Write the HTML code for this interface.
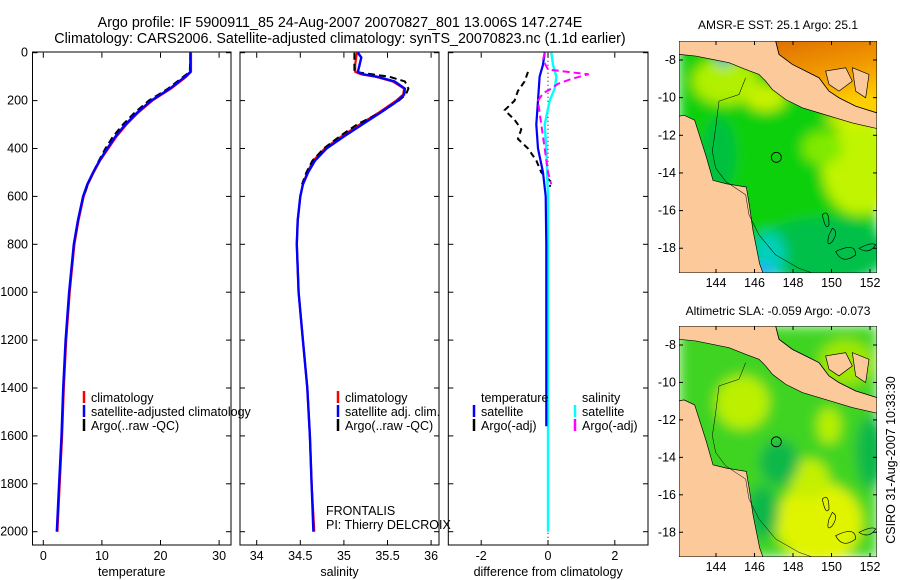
<!DOCTYPE html>
<html><head><meta charset="utf-8">
<style>
html,body{margin:0;padding:0;background:#fff;}
svg{display:block;font-family:"Liberation Sans",sans-serif;}
text{fill:#000;}
</style></head>
<body>
<svg id="fig" width="900" height="580" viewBox="0 0 900 580" xmlns="http://www.w3.org/2000/svg">
<text x="340" y="27" font-size="14.3" text-anchor="middle">Argo profile: IF 5900911_85 24-Aug-2007 20070827_801 13.006S 147.274E</text>
<text x="340" y="43" font-size="14.3" text-anchor="middle">Climatology: CARS2006. Satellite-adjusted climatology: synTS_20070823.nc (1.1d earlier)</text>
<g id="plots"></g>
<text x="778" y="29" font-size="12" text-anchor="middle">AMSR-E SST: 25.1 Argo: 25.1</text>
<text x="778" y="315" font-size="12" text-anchor="middle">Altimetric SLA: -0.059 Argo: -0.073</text>
<text transform="translate(895,460) rotate(-90)" font-size="12.5" text-anchor="middle">CSIRO 31-Aug-2007 10:33:30</text>
<g id="maps"></g>
</svg>
<script>
// ---- data ----
const depthsT = [0,80,100,150,200,250,300,350,400,450,500,550,600,700,800,1000,1200,1400,1600,1800,2000];
const tempClim = [25.2,25.2,24.4,21.8,18.6,16.2,14.2,12.5,11.1,9.7,8.6,7.6,6.9,6.0,5.3,4.5,3.9,3.5,3.2,2.8,2.4];
const tempSat  = [25.1,25.1,24.2,21.6,18.4,16.0,14.0,12.3,10.9,9.6,8.5,7.5,6.8,5.9,5.2,4.4,3.8,3.4,3.1,2.7,2.3];
const tempArgo = [25.1,25.0,23.9,21.3,18.0,15.6,13.6,11.9,10.6,9.5,8.5,7.6,6.9];
const depthsS = [0,20,50,80,90,100,120,150,175,200,250,300,350,400,450,500,550,600,700,800,1000,1200,1400,1600,1800,2000];
const salClim = [35.15,35.14,35.13,35.13,35.2,35.36,35.56,35.69,35.68,35.6,35.4,35.18,34.97,34.78,34.65,34.58,34.53,34.5,34.47,34.46,34.48,34.53,34.58,34.61,34.63,34.66];
const salSat  = [35.16,35.2,35.18,35.16,35.22,35.38,35.58,35.70,35.69,35.62,35.42,35.21,35.0,34.80,34.67,34.59,34.53,34.5,34.47,34.46,34.48,34.53,34.58,34.61,34.63,34.65];
const salArgo = [35.12,35.12,35.12,35.12,35.32,35.52,35.7,35.74,35.71,35.63,35.42,35.15,34.95,34.77,34.64,34.57,34.52];
const dDepthT = [0,50,100,200,300,400,500,600,800,1000,1200,1560];
const dTempSat = [-0.1,-0.15,-0.25,-0.3,-0.35,-0.3,-0.15,-0.07,-0.05,-0.05,-0.05,-0.05];
const dDepthS = [0,50,100,150,200,300,400,600,800,1000,1500,2000];
const dSalSat = [0.1,0.15,0.25,0.2,0.05,-0.1,-0.05,0.0,0.0,0.0,0.0,0.0];
const dDepthTA = [80,120,160,200,240,280,320,360,400,450,500,540,560];
const dTempArgo = [-0.6,-0.7,-0.9,-1.0,-1.3,-1.0,-0.8,-0.9,-0.6,-0.35,-0.2,0.1,0.05];
const dDepthSA = [0,30,70,90,110,130,150,170,200,250,300,350,400,500,550];
const dSalArgo = [-0.1,-0.15,0.0,1.2,0.7,0.3,0.1,-0.15,-0.3,-0.25,-0.2,-0.15,-0.1,0.0,0.1];
const depthTicks = [0,200,400,600,800,1000,1200,1400,1600,1800,2000];
const tTicks = [0,10,20,30];
const sTicks = [34,34.5,35,35.5,36];
const dTicks = [-2,0,2];

const NS="http://www.w3.org/2000/svg";
const plots=document.getElementById('plots');
function mk(tag,attrs,parent){const e=document.createElementNS(NS,tag);for(const k in attrs)e.setAttribute(k,attrs[k]);(parent||plots).appendChild(e);return e;}
const TOP=52.7, BOT=545;
function yD(d){return 52.7+d*0.2395;}
const panels=[
 {x0:32.5,x1:231,xs:v=>43.3+v*5.86,ticks:tTicks,lab:'temperature',name:'temperature-panel'},
 {x0:240,x1:439,xs:v=>256.7+(v-34)*87.2,ticks:sTicks,lab:'salinity',name:'salinity-panel'},
 {x0:448.3,x1:648,xs:v=>548+v*33.4,ticks:dTicks,lab:'difference from climatology',name:'difference-panel'}
];
panels.forEach((p,i)=>{
  const g=mk('g',{});
  
  
  const r=mk('rect',{x:p.x0,y:TOP-0.7,width:p.x1-p.x0,height:BOT-TOP+0.7,fill:'none',stroke:'#000','stroke-width':1},g);
  
  
  p.ticks.forEach(t=>{
    const x=p.xs(t);
    mk('line',{x1:x,x2:x,y1:BOT,y2:BOT-5,stroke:'#000'},g);
    mk('line',{x1:x,x2:x,y1:TOP,y2:TOP+5,stroke:'#000'},g);
    const tx=mk('text',{x:x,y:BOT+15,'font-size':12.5,'text-anchor':'middle'},g);
    tx.textContent=String(t);
    
    
  });
  depthTicks.forEach(d=>{
    const y=yD(d);
    mk('line',{x1:p.x0,x2:p.x0+5,y1:y,y2:y,stroke:'#000'},g);
    mk('line',{x1:p.x1,x2:p.x1-5,y1:y,y2:y,stroke:'#000'},g);
    if(i===0){const tx=mk('text',{x:28,y:y+4,'font-size':12.5,'text-anchor':'end'},g);tx.textContent=String(d);
      
      }
  });
  const xl=mk('text',{x:(p.x0+p.x1)/2,y:576,'font-size':12.5,'text-anchor':'middle'},g);
  xl.textContent=p.lab;
  
  
});
function line(p,depths,vals,color,w,dash,name){
  const pts=vals.map((v,k)=>p.xs(v).toFixed(1)+','+yD(depths[k]).toFixed(1)).join(' ');
  const e=mk('polyline',{points:pts,fill:'none',stroke:color,'stroke-width':w,'stroke-linejoin':'round'});
  if(dash)e.setAttribute('stroke-dasharray',dash);
  
  
}
const P=panels;
line(P[0],depthsT,tempClim,'#f00',2.2,null,'temperature-climatology-line');
line(P[0],depthsT.slice(0,tempArgo.length),tempArgo,'#000',2,'7,4','temperature-argo-line');
line(P[0],depthsT,tempSat,'#00f',2.4,null,'temperature-satellite-line');
line(P[1],depthsS,salClim,'#f00',2.2,null,'salinity-climatology-line');
line(P[1],depthsS.slice(0,salArgo.length),salArgo,'#000',2,'7,4','salinity-argo-line');
line(P[1],depthsS,salSat,'#00f',2.4,null,'salinity-satellite-line');
const z=mk('line',{x1:548,x2:548,y1:TOP,y2:BOT,stroke:'#000','stroke-width':1,'stroke-dasharray':'1,3'});


line(P[2],dDepthTA,dTempArgo,'#000',2,'6,4','temperature-argo-difference-line');
line(P[2],dDepthS,dSalSat,'#0ff',2.4,null,'salinity-satellite-difference-line');
line(P[2],dDepthT,dTempSat,'#00f',2.2,null,'temperature-satellite-difference-line');
line(P[2],dDepthSA,dSalArgo,'#f0f',2,'7,4','salinity-argo-difference-line');

function legend(x,y,color,label,name){
  const g=mk('g',{});
  
  
  if(color)mk('line',{x1:x,x2:x,y1:y-11,y2:y+1,stroke:color,'stroke-width':2.5},g);
  const t=mk('text',{x:x+7,y:y,'font-size':12.5},g);t.textContent=label;
}
legend(84,402,'#f00','climatology','legend-climatology');
legend(84,416,'#00f','satellite-adjusted climatology','legend-satellite-adjusted');
legend(84,430,'#000','Argo(..raw -QC)','legend-argo');
legend(338,402,'#f00','climatology','legend-sal-climatology');
legend(338,416,'#00f','satellite adj. clim.','legend-sal-satellite');
legend(338,430,'#000','Argo(..raw -QC)','legend-sal-argo');
(function(){const t=mk('text',{x:481,y:402,'font-size':12.5});t.textContent='temperature';
 
 const s=mk('text',{x:582,y:402,'font-size':12.5});s.textContent='salinity';
 
 const f=mk('text',{x:326,y:515,'font-size':12.5});f.textContent='FRONTALIS';
 
 const pi=mk('text',{x:326,y:529,'font-size':12.5});pi.textContent='PI: Thierry DELCROIX';
 })();
legend(474,416,'#00f','satellite','legend-diff-temp-satellite');
legend(474,430,'#000','Argo(-adj)','legend-diff-temp-argo');
legend(575,416,'#0ff','satellite','legend-diff-sal-satellite');
legend(575,430,'#f0f','Argo(-adj)','legend-diff-sal-argo');

// ---- maps ----
const lonTicks=[144,146,148,150,152];
const latTicks=[-8,-10,-12,-14,-16,-18];
const landNG="0,0 290,0 300,40 340,70 380,90 420,110 450,150 480,170 530,195 594,215 594,262 520,245 470,230 420,215 370,200 320,175 280,145 260,120 240,100 200,85 150,65 100,55 50,45 0,40";
const landAU="0,225 15,222 47,237 82,347 102,417 142,427 202,437 212,497 222,567 242,667 252,694 0,694";
const sea="290,0 594,0 594,215 530,195 480,170 450,150 420,110 380,90 340,70 300,40";
function mapSVG(x,y,w,h,type,name){
  const svg=document.createElementNS(NS,'svg');
  svg.setAttribute('x',x);svg.setAttribute('y',y);svg.setAttribute('width',w);svg.setAttribute('height',h);
  svg.setAttribute('viewBox','0 0 594 694');svg.setAttribute('preserveAspectRatio','none');
  
  
  let blobs;
  if(type==='sst'){
    blobs=`<rect width="594" height="694" fill="#10d010"/>
    <ellipse cx="540" cy="380" rx="110" ry="140" fill="#c0f400"/>
    <ellipse cx="430" cy="320" rx="60" ry="50" fill="#80ea00"/>
    <ellipse cx="140" cy="120" rx="100" ry="70" fill="#b0f000"/>
    <ellipse cx="260" cy="170" rx="60" ry="40" fill="#c8f200"/>
    <ellipse cx="120" cy="340" rx="50" ry="110" fill="#00c040"/>
    <ellipse cx="430" cy="630" rx="200" ry="100" fill="#00c048"/>
    <ellipse cx="270" cy="640" rx="50" ry="70" fill="#00d0b8"/>
    <ellipse cx="250" cy="690" rx="30" ry="25" fill="#20a8ff"/>
    <ellipse cx="520" cy="235" rx="80" ry="22" fill="#d8f200"/>
    <rect x="120" y="40" width="30" height="30" fill="#1060ff"/>`;
  } else {
    blobs=`<rect width="594" height="694" fill="#40d420"/>
    <ellipse cx="420" cy="590" rx="130" ry="120" fill="#e0f400"/>
    <ellipse cx="390" cy="460" rx="60" ry="60" fill="#c4f000"/>
    <ellipse cx="190" cy="230" rx="80" ry="80" fill="#bcf000"/>
    <ellipse cx="300" cy="410" rx="60" ry="70" fill="#10b848"/>
    <ellipse cx="575" cy="380" rx="45" ry="110" fill="#10b848"/>
    <ellipse cx="500" cy="110" rx="80" ry="70" fill="#a0e800"/>
    <ellipse cx="450" cy="300" rx="35" ry="55" fill="#b8f000"/>
    <ellipse cx="250" cy="560" rx="50" ry="80" fill="#10b848"/>`;
  }
  const seaFill = type==='sst' ? `<polygon points="${sea}" fill="url(#orgGrad)"/>` : '';
  svg.innerHTML=`<defs><clipPath id="c${type}"><rect width="594" height="694"/></clipPath>
    <filter id="b${type}" x="-20%" y="-20%" width="140%" height="140%"><feGaussianBlur stdDeviation="18"/></filter>
    <linearGradient id="orgGrad" x1="0" y1="0" x2="0.3" y2="1"><stop offset="0" stop-color="#e07000"/><stop offset="0.6" stop-color="#f4a000"/><stop offset="1" stop-color="#ffd000"/></linearGradient></defs>
    <g clip-path="url(#c${type})"><g filter="url(#b${type})">${blobs}</g>${seaFill}
    <polygon points="${landNG}" fill="#fbc99a" stroke="#000" stroke-width="2"/>
    <polygon points="${landAU}" fill="#fbc99a" stroke="#000" stroke-width="2"/>
    <polyline points="290,0 300,40 340,70 380,90 420,110 450,150 480,170 530,195 594,215" fill="none" stroke="#000" stroke-width="2"/>
    <path d="M440,90 L500,80 L520,120 L480,150 L450,130 Z M520,80 L570,100 L560,170 L530,150 Z" fill="#fbc99a" stroke="#000" stroke-width="2"/>
    <polyline points="200,110 180,160 120,180 110,260 100,330 110,380 140,420 200,460 210,520 240,580 290,640 360,680 400,694" fill="none" stroke="#000" stroke-width="1.5"/>
    <path d="M430,520 q20,-20 20,30 q-10,20 -20,-30 Z M460,560 q20,10 0,40 q-20,20 -10,-20 Z M470,630 q60,-30 60,10 q-40,30 -60,-10 Z M540,620 q40,-20 50,-10 q-20,30 -50,10 Z" fill="none" stroke="#000" stroke-width="2"/>
    <circle cx="292" cy="348" r="15" fill="none" stroke="#000" stroke-width="2.5"/></g>
    <rect width="594" height="694" fill="none" stroke="#000" stroke-width="3"/>`;
  document.getElementById('maps').appendChild(svg);
  const g=document.getElementById('maps');
  const lx=v=>716+(v-144)*19.25;
  lonTicks.forEach(v=>{
    const X=lx(v);
    mk('line',{x1:X,x2:X,y1:y,y2:y+4,stroke:'#000'},g);
    mk('line',{x1:X,x2:X,y1:y+h,y2:y+h-4,stroke:'#000'},g);
    const t=mk('text',{x:X,y:y+h+14,'font-size':12.5,'text-anchor':'middle'},g);t.textContent=String(v);
    
    
  });
  const ly=v=>y+19+(-8-v)*(h-40)/10.2;
  latTicks.forEach(v=>{
    const Y=ly(v);
    mk('line',{x1:x,x2:x+4,y1:Y,y2:Y,stroke:'#000'},g);
    mk('line',{x1:x+w,x2:x+w-4,y1:Y,y2:Y,stroke:'#000'},g);
    const t=mk('text',{x:x-3,y:Y+4,'font-size':12.5,'text-anchor':'end'},g);t.textContent=String(v);
    
    
  });
}
mapSVG(679,41,198,232,'sst','sst-map');
mapSVG(679,326,198,231,'sla','sla-map');
</script>
</body></html>
